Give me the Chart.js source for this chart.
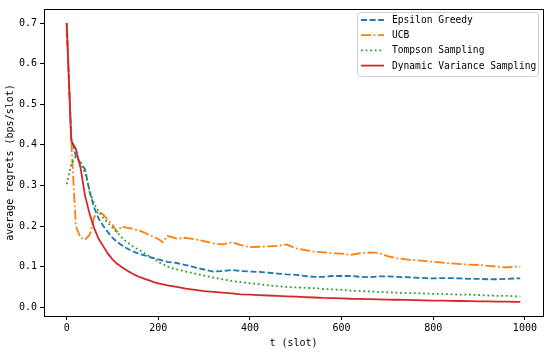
<!DOCTYPE html>
<html>
<head>
<meta charset="utf-8">
<script src="https://cdn.jsdelivr.net/npm/chart.js@4/dist/chart.umd.min.js"></script>
<style>
  body { margin: 0; background: #fff; }
</style>
</head>
<body>
<canvas id="chart" width="550" height="353"></canvas>
<script>
// time slots
const slots = [0, 10, 20, 30, 40, 50, 60, 70, 80, 90, 100, 110, 120, 130, 140, 150, 160, 170, 180, 190, 200, 210, 220,
  240, 260, 280, 300, 320, 340, 360, 380, 400, 420, 440, 460, 480, 500, 520, 540, 560, 580, 600,
  620, 640, 660, 680, 700, 720, 740, 760, 780, 800, 820, 840, 860, 880, 900, 920, 940, 960, 980, 990];

const epsilonGreedy = [0.700, 0.417, 0.372, 0.355, 0.340, 0.285, 0.245, 0.218, 0.200, 0.185, 0.171, 0.161, 0.153, 0.146, 0.140, 0.135, 0.131, 0.128, 0.124, 0.121, 0.118, 0.115, 0.112,
  0.109, 0.104, 0.098, 0.093, 0.088, 0.089, 0.092, 0.089, 0.088, 0.087, 0.085, 0.083, 0.081, 0.080, 0.077, 0.075, 0.075, 0.077, 0.077,
  0.077, 0.075, 0.074, 0.076, 0.076, 0.075, 0.074, 0.073, 0.072, 0.071, 0.072, 0.072, 0.071, 0.070, 0.070, 0.069, 0.069, 0.070, 0.071, 0.071];

const ucb = [0.700, 0.410, 0.200, 0.172, 0.166, 0.178, 0.222, 0.236, 0.228, 0.215, 0.203, 0.186, 0.199, 0.196, 0.194, 0.191, 0.188, 0.184, 0.178, 0.173, 0.168, 0.160, 0.176,
  0.169, 0.171, 0.167, 0.163, 0.157, 0.155, 0.160, 0.153, 0.148, 0.149, 0.150, 0.151, 0.155, 0.145, 0.141, 0.137, 0.135, 0.133, 0.132,
  0.129, 0.133, 0.135, 0.134, 0.126, 0.121, 0.118, 0.116, 0.114, 0.112, 0.110, 0.108, 0.106, 0.105, 0.104, 0.102, 0.100, 0.098, 0.100, 0.100];

const tompson = [0.303, 0.352, 0.372, 0.357, 0.330, 0.287, 0.255, 0.235, 0.220, 0.208, 0.196, 0.184, 0.172, 0.162, 0.153, 0.146, 0.140, 0.133, 0.126, 0.119, 0.112, 0.106, 0.100,
  0.093, 0.088, 0.083, 0.078, 0.073, 0.069, 0.065, 0.062, 0.059, 0.057, 0.054, 0.052, 0.050, 0.049, 0.048, 0.047, 0.045, 0.044, 0.043,
  0.041, 0.040, 0.039, 0.038, 0.037, 0.036, 0.035, 0.035, 0.034, 0.033, 0.033, 0.032, 0.031, 0.031, 0.030, 0.029, 0.028, 0.028, 0.027, 0.027];

const dynamicVariance = [0.700, 0.410, 0.390, 0.345, 0.275, 0.230, 0.195, 0.168, 0.150, 0.132, 0.118, 0.107, 0.099, 0.092, 0.085, 0.079, 0.074, 0.070, 0.066, 0.062, 0.059, 0.0565, 0.054,
  0.050, 0.046, 0.043, 0.040, 0.038, 0.036, 0.034, 0.032, 0.031, 0.030, 0.029, 0.028, 0.027, 0.026, 0.025, 0.024, 0.023, 0.0225, 0.022,
  0.021, 0.0205, 0.020, 0.0195, 0.019, 0.0185, 0.018, 0.0175, 0.017, 0.0166, 0.0162, 0.0158, 0.0154, 0.015, 0.0147, 0.0144, 0.0141, 0.0138, 0.0135, 0.0134];

const xTicks = [0, 200, 400, 600, 800, 1000];
const yTicks = [0.0, 0.1, 0.2, 0.3, 0.4, 0.5, 0.6, 0.7];

const FONT = "'DejaVu Sans Mono', monospace";
const LW = 1.8;

function pts(vals) {
  return slots.map((t, i) => ({ x: t, y: vals[i] }));
}

// frame + legend, matplotlib style
const frameAndLegend = {
  id: 'frameAndLegend',
  afterDraw(chart) {
    const ctx = chart.ctx;
    const a = chart.chartArea;
    ctx.save();
    ctx.strokeStyle = '#000';
    ctx.lineWidth = 1;
    ctx.strokeRect(Math.round(a.left) + 0.5, Math.round(a.top) + 0.5,
      Math.round(a.right - a.left), Math.round(a.bottom - a.top));

    // legend box
    const bx = 357, by = 12, bw = 181, bh = 64;
    ctx.fillStyle = 'rgba(255,255,255,0.8)';
    ctx.strokeStyle = '#d0d0d0';
    ctx.beginPath();
    ctx.roundRect(bx + 0.5, by + 0.5, bw, bh, 3);
    ctx.fill();
    ctx.stroke();

    ctx.font = '9.6px ' + FONT;
    ctx.textBaseline = 'middle';
    chart.data.datasets.forEach((ds, i) => {
      const y = 20 + i * 15.2;
      ctx.strokeStyle = ds.borderColor;
      ctx.lineWidth = LW;
      ctx.setLineDash(ds.borderDash || []);
      ctx.beginPath();
      ctx.moveTo(361, y);
      ctx.lineTo(384, y);
      ctx.stroke();
      ctx.setLineDash([]);
      ctx.fillStyle = '#000';
      ctx.fillText(ds.label, 392, y + 0.5);
    });
    ctx.restore();
  }
};

new Chart(document.getElementById('chart'), {
  type: 'line',
  data: {
    datasets: [
      {
        label: 'Epsilon Greedy',
        data: pts(epsilonGreedy),
        borderColor: '#1f77b4',
        borderDash: [6, 2.6],
        order: 3
      },
      {
        label: 'UCB',
        data: pts(ucb),
        borderColor: '#ff7f0e',
        borderDash: [10, 2.6, 1.8, 2.6],
        order: 2
      },
      {
        label: 'Tompson Sampling',
        data: pts(tompson),
        borderColor: '#2ca02c',
        borderDash: [1.8, 2.8],
        order: 1
      },
      {
        label: 'Dynamic Variance Sampling',
        data: pts(dynamicVariance),
        borderColor: '#d62728',
        order: 0
      }
    ]
  },
  options: {
    responsive: false,
    animation: false,
    devicePixelRatio: 1,
    elements: {
      line: { borderWidth: LW, tension: 0, fill: false },
      point: { radius: 0 }
    },
    layout: { padding: { top: 6, right: 7, left: 0, bottom: 0 } },
    plugins: {
      legend: { display: false },
      tooltip: { enabled: false }
    },
    scales: {
      x: {
        type: 'linear',
        min: -49.5,
        max: 1039.5,
        afterBuildTicks: axis => { axis.ticks = xTicks.map(v => ({ value: v })); },
        afterFit: axis => { axis.height = 37; },
        grid: { display: true, drawOnChartArea: false, drawTicks: true, tickLength: 4, color: '#000' },
        border: { display: true, color: '#000' },
        ticks: { color: '#000', font: { family: FONT, size: 10 }, padding: 2, maxRotation: 0, callback: v => String(v) },
        title: { display: true, text: 't (slot)', color: '#000', font: { family: FONT, size: 10 }, padding: { top: 0, bottom: 4 } }
      },
      y: {
        type: 'linear',
        min: -0.0215,
        max: 0.7345,
        afterBuildTicks: axis => { axis.ticks = yTicks.map(v => ({ value: v })); },
        afterFit: axis => { axis.width = 44; },
        grid: { display: true, drawOnChartArea: false, drawTicks: true, tickLength: 4, color: '#000' },
        border: { display: true, color: '#000' },
        ticks: { color: '#000', font: { family: FONT, size: 10 }, padding: 3, callback: v => v.toFixed(1) },
        title: { display: true, text: 'average regrets (bps/slot)', color: '#000', font: { family: FONT, size: 10 }, padding: { top: 4, bottom: 0 } }
      }
    }
  },
  plugins: [frameAndLegend]
});
</script>
</body>
</html>
